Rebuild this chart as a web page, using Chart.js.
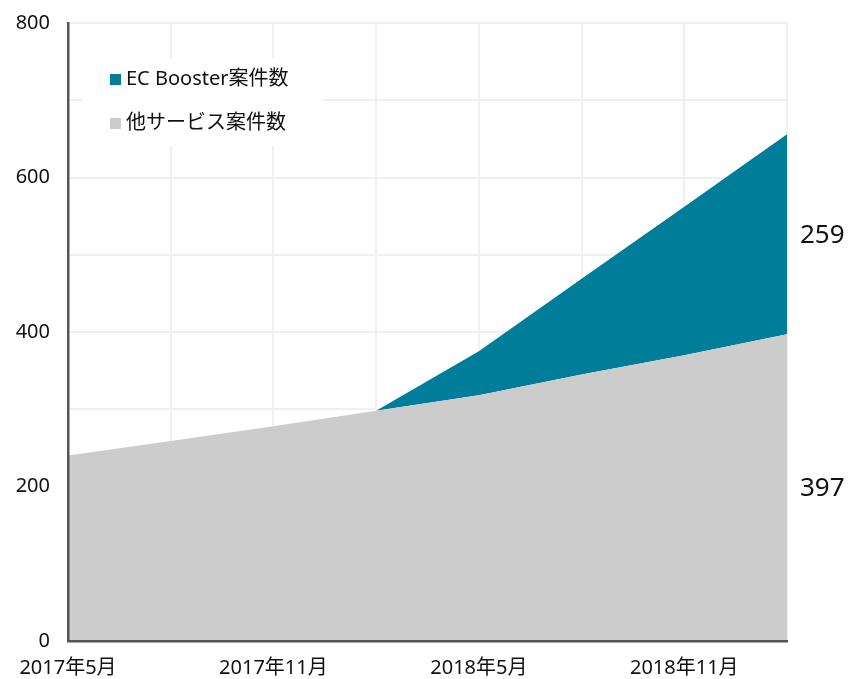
<!DOCTYPE html>
<html>
<head>
<meta charset="utf-8">
<script src="https://cdn.jsdelivr.net/npm/chart.js@4/dist/chart.umd.min.js"></script>
<style>
  html, body { margin: 0; padding: 0; background: #fff; }
  #wrap { width: 852px; height: 679px; position: relative; }
</style>
</head>
<body>
<div id="wrap"><canvas id="area-chart"></canvas></div>
<script>
// 3-month steps, only every other one gets a label
var months = ['2017年5月', '2017年8月', '2017年11月', '2018年2月', '2018年5月', '2018年8月', '2018年11月', '2019年2月'];
var otherCases = [240, 259, 278, 298, 318, 345, 370, 397];
var ecBoosterCases = [0, 0, 0, 0, 57, 124, 192, 259];
var seriesNames = ['他サービス案件数', 'EC Booster案件数'];
var yTicks = [0, 200, 400, 600, 800];

var FONT = "'Noto Sans', 'Noto Sans CJK JP', sans-serif";

// legend drawn inside the plot on a white box
var innerLegend = {
    id: 'innerLegend',
    afterDraw: function(chart) {
        var ctx = chart.ctx;
        var area = chart.chartArea;
        var x0 = area.left + 15, y0 = area.top + 35;
        ctx.save();
        ctx.fillStyle = '#ffffff';
        ctx.fillRect(x0, y0, 239, 88);
        ctx.font = '20px ' + FONT;
        ctx.textBaseline = 'middle';
        var items = chart.data.datasets.slice().reverse();
        items.forEach(function(ds, i) {
            var cy = y0 + 21 + i * 44;
            ctx.fillStyle = ds.backgroundColor;
            ctx.fillRect(x0 + 27, cy - 5, 11, 11);
            ctx.fillStyle = '#111';
            ctx.fillText(ds.label, x0 + 43, cy);
        });
        ctx.restore();
    }
};

// last values written beside the right edge, centred on each band
var endLabels = {
    id: 'endLabels',
    afterDatasetsDraw: function(chart) {
        var ctx = chart.ctx;
        var y = chart.scales.y;
        var base = 0;
        ctx.save();
        ctx.font = '26px ' + FONT;
        ctx.fillStyle = '#111';
        ctx.textBaseline = 'middle';
        chart.data.datasets.forEach(function(ds) {
            var v = ds.data[ds.data.length - 1];
            var mid = y.getPixelForValue(base + v / 2);
            ctx.fillText(String(v), chart.chartArea.right + 13, mid + 1);
            base += v;
        });
        ctx.restore();
    }
};

new Chart(document.getElementById('area-chart'), {
    type: 'line',
    data: {
        labels: months,
        datasets: [
            {
                label: seriesNames[0],
                data: otherCases,
                backgroundColor: '#cccccc',
                borderWidth: 0,
                pointRadius: 0,
                fill: 'origin'
            },
            {
                label: seriesNames[1],
                data: ecBoosterCases,
                backgroundColor: '#007e99',
                borderWidth: 0,
                pointRadius: 0,
                fill: '-1'
            }
        ]
    },
    options: {
        responsive: true,
        maintainAspectRatio: false,
        animation: false,
        layout: { padding: { left: 0, right: 65, top: 23, bottom: 0 } },
        plugins: {
            legend: { display: false },
            tooltip: { enabled: false }
        },
        scales: {
            x: {
                grid: { color: '#f0f0f0', lineWidth: 2, drawTicks: false },
                border: { color: '#555555', width: 2.5, z: 1 },
                ticks: {
                    autoSkip: false,
                    maxRotation: 0,
                    padding: 15,
                    color: '#111',
                    font: { family: FONT, size: 20 },
                    callback: function(v, i) { return i % 2 === 0 ? months[i] : ''; }
                },
                afterFit: function(s) {
                    s.height = 38;
                    s.paddingLeft = 0;
                    s.paddingRight = 0;
                }
            },
            y: {
                stacked: true,
                min: 0,
                max: 800,
                grid: { color: '#f0f0f0', lineWidth: 2, drawTicks: false },
                border: { color: '#555555', width: 2.5, z: 1 },
                ticks: {
                    stepSize: 100,
                    padding: 18,
                    color: '#111',
                    font: { family: FONT, size: 20 },
                    callback: function(v) { return yTicks.indexOf(v) >= 0 ? v : ''; }
                },
                afterFit: function(s) {
                    s.width = 68;
                    s.paddingTop = 0;
                    s.paddingBottom = 0;
                }
            }
        }
    },
    plugins: [endLabels, innerLegend]
});
</script>
</body>
</html>
